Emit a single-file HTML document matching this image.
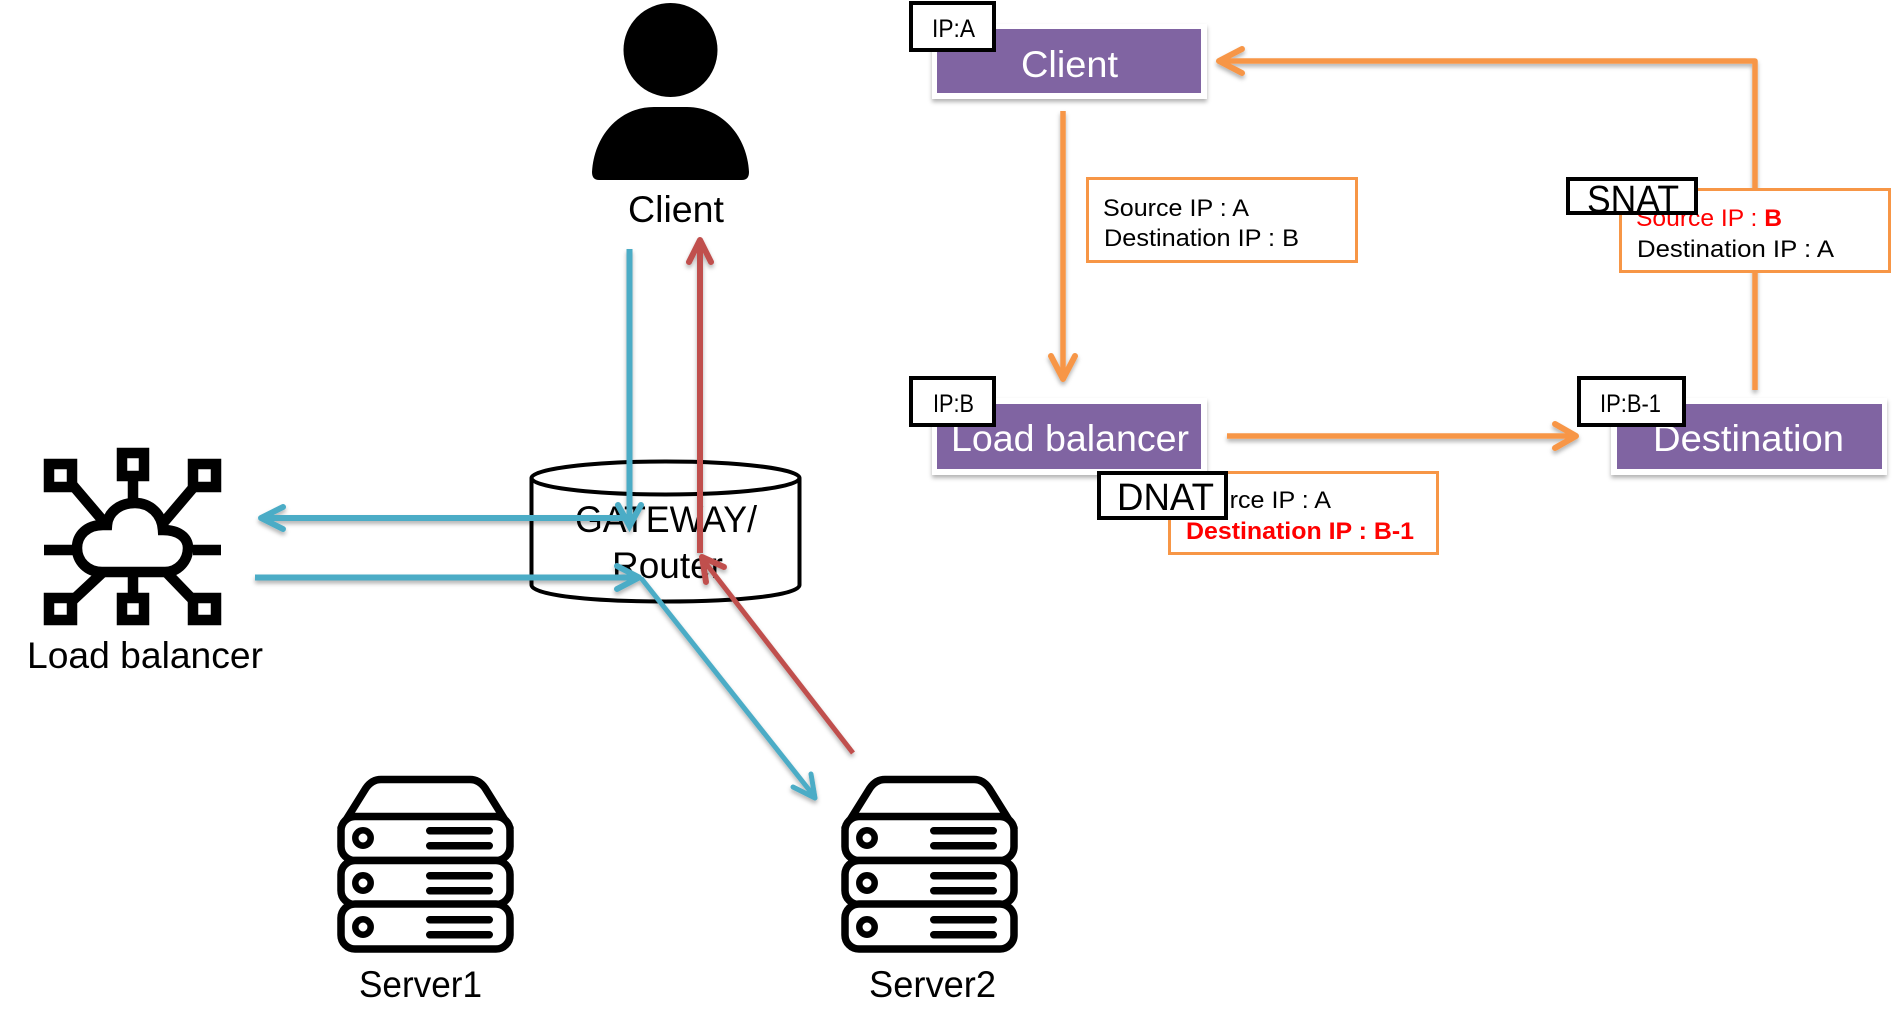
<!DOCTYPE html>
<html lang="en">
<head>
<meta charset="utf-8">
<title>Load balancer DNAT / SNAT diagram</title>
<style>
html,body{margin:0;padding:0;background:#fff;width:1895px;height:1014px;overflow:hidden}
svg{display:block}
text{font-family:"Liberation Sans",sans-serif}
</style>
</head>
<body>
<svg xmlns="http://www.w3.org/2000/svg" width="1895" height="1014" viewBox="0 0 1895 1014">
<defs>
<filter id="sh" x="-20%" y="-20%" width="140%" height="140%">
<feDropShadow dx="0" dy="3" stdDeviation="2" flood-color="#000" flood-opacity="0.3"/>
</filter>
<filter id="ash" x="0" y="0" width="1895" height="1014" filterUnits="userSpaceOnUse">
<feDropShadow dx="0" dy="3" stdDeviation="2" flood-color="#000" flood-opacity="0.3"/>
</filter>
<g id="server">
<path d="M341 828 L366 788 Q372 779.5 381 779.5 H470 Q479 779.5 485 788 L510 828 Z" fill="#fff" stroke="#000" stroke-width="7.5" stroke-linejoin="round"/>
<rect x="341" y="816.5" width="169" height="44" rx="14" fill="#fff" stroke="#000" stroke-width="7.5"/>
<rect x="341" y="860.5" width="169" height="44" rx="14" fill="#fff" stroke="#000" stroke-width="7.5"/>
<rect x="341" y="904" width="169" height="45" rx="14" fill="#fff" stroke="#000" stroke-width="7.5"/>
<circle cx="363" cy="838" r="7.7" fill="#fff" stroke="#000" stroke-width="6.5"/>
<circle cx="363" cy="883" r="7.7" fill="#fff" stroke="#000" stroke-width="6.5"/>
<circle cx="363" cy="927" r="7.7" fill="#fff" stroke="#000" stroke-width="6.5"/>
<rect x="426" y="827" width="67" height="7.5" rx="3.75"/>
<rect x="426" y="842" width="67" height="7.5" rx="3.75"/>
<rect x="426" y="872" width="67" height="7.5" rx="3.75"/>
<rect x="426" y="887" width="67" height="7.5" rx="3.75"/>
<rect x="426" y="916" width="67" height="7.5" rx="3.75"/>
<rect x="426" y="931" width="67" height="7.5" rx="3.75"/>
</g>
</defs>

<!-- Person -->
<circle cx="670.5" cy="50" r="47" fill="#000"/>
<path d="M592 172 C594 135 620 107 654 107 H687 C721 107 747 135 749 172 Q749 180 742 180 H599 Q592 180 592 172Z" fill="#000"/>
<text x="628" y="222" font-size="37" textLength="96" lengthAdjust="spacingAndGlyphs">Client</text>

<!-- Load balancer icon -->
<g fill="none" stroke="#000" stroke-width="10.5">
<path d="M70 482 L104 522 M198 482 L164 522 M133 481 V500 M44 550 H74 M193 550 H221 M133 577 V593 M72 601 L102 573 M194 601 L167 573"/>
<path d="M102 572 C87 572 77 561 77 548 C77 535 87 525 103 525 L107 525 C108 512 120 503 135 503 C150 503 162 514 163 530 C178 530 188 537 188 548 C188 561 178 572 165 572 Z" fill="#fff"/>
<rect x="49" y="464" width="23" height="23"/>
<rect x="122" y="453" width="22" height="23"/>
<rect x="193" y="464" width="23" height="23"/>
<rect x="49" y="598" width="23" height="22"/>
<rect x="122" y="598" width="22" height="22"/>
<rect x="193" y="598" width="23" height="22"/>
</g>
<text x="27" y="668" font-size="37" textLength="236" lengthAdjust="spacingAndGlyphs">Load balancer</text>

<!-- Gateway cylinder -->
<path d="M531.5 478 V585 C531.5 595 590 601.5 665.5 601.5 C741 601.5 799.5 595 799.5 585 V478" fill="#fff" stroke="#000" stroke-width="4"/>
<ellipse cx="665.5" cy="478" rx="134" ry="16.5" fill="#fff" stroke="#000" stroke-width="4"/>
<text x="575" y="532" font-size="37" textLength="182" lengthAdjust="spacingAndGlyphs">GATEWAY/</text>
<text x="612" y="578" font-size="37" textLength="111" lengthAdjust="spacingAndGlyphs">Router</text>

<!-- Servers -->
<use href="#server"/>
<use href="#server" x="504"/>
<text x="359" y="997" font-size="37" textLength="123" lengthAdjust="spacingAndGlyphs">Server1</text>
<text x="869" y="997" font-size="37" textLength="127" lengthAdjust="spacingAndGlyphs">Server2</text>

<!-- Blue / red arrows -->
<g fill="none" filter="url(#ash)">
<g stroke="#4bacc6">
<path d="M629.5 249 V526" stroke-width="6"/>
<path d="M618 505 L629.5 526 L641 505" stroke-width="6" stroke-linecap="round"/>
<path d="M262 518 H632" stroke-width="6"/>
<path d="M283 507 L261 518 L283 529" stroke-width="6" stroke-linecap="round" stroke-linejoin="round"/>
<path d="M255 577.5 H638" stroke-width="6"/>
<path d="M617 566 L639 577.5 L617 589" stroke-width="6" stroke-linecap="round" stroke-linejoin="round"/>
<path d="M641 578 L814 796" stroke-width="5"/>
<path d="M793 787 L815 798 L811 774" stroke-width="5" stroke-linecap="round" stroke-linejoin="round"/>
</g>
<g stroke="#c0504d">
<path d="M700 242 V553" stroke-width="6"/>
<path d="M689 262 L700 240 L711 262" stroke-width="6" stroke-linecap="round" stroke-linejoin="round"/>
<path d="M853 753 L704 561" stroke-width="5"/>
<path d="M706 582 L702 557 L724 567" stroke-width="6" stroke-linecap="round" stroke-linejoin="round"/>
</g>
</g>

<!-- Right side: nodes -->
<g>
<rect x="932" y="24" width="275" height="75" fill="#fff" filter="url(#sh)"/>
<rect x="937" y="29" width="264" height="64" fill="#8064a2"/>
<rect x="932" y="398" width="275" height="77" fill="#fff" filter="url(#sh)"/>
<rect x="937" y="404" width="264" height="65" fill="#8064a2"/>
<rect x="1611" y="398" width="276" height="77" fill="#fff" filter="url(#sh)"/>
<rect x="1617" y="404" width="265" height="65" fill="#8064a2"/>
</g>
<g fill="#fff" font-size="37">
<text x="1021" y="77" textLength="97" lengthAdjust="spacingAndGlyphs">Client</text>
<text x="951" y="451" textLength="238" lengthAdjust="spacingAndGlyphs">Load balancer</text>
<text x="1653" y="451" textLength="191" lengthAdjust="spacingAndGlyphs">Destination</text>
</g>

<!-- Orange arrows -->
<g fill="none" stroke="#f79646" filter="url(#ash)">
<path d="M1755 390 V61 H1222" stroke-width="5.5" stroke-linejoin="round"/>
<path d="M1242 49 L1219 61 L1242 73" stroke-width="6" stroke-linecap="round" stroke-linejoin="round"/>
<path d="M1063 111 V376" stroke-width="5.5"/>
<path d="M1051 356 L1063 379 L1075 356" stroke-width="6" stroke-linecap="round" stroke-linejoin="round"/>
<path d="M1227 436 H1574" stroke-width="5.5"/>
<path d="M1555 424 L1576 436 L1555 448" stroke-width="6" stroke-linecap="round" stroke-linejoin="round"/>
</g>

<!-- Orange info boxes -->
<g fill="#fff" stroke="#f79646" stroke-width="3">
<rect x="1087.5" y="178.5" width="269" height="83"/>
<rect x="1620.5" y="189.5" width="269" height="82"/>
<rect x="1169.5" y="472.5" width="268" height="81"/>
</g>
<g font-size="24.5" fill="#000">
<text x="1103" y="216" textLength="146" lengthAdjust="spacingAndGlyphs">Source IP : A</text>
<text x="1104" y="246" textLength="195" lengthAdjust="spacingAndGlyphs">Destination IP : B</text>
<text x="1636" y="226" fill="#f00" textLength="146" lengthAdjust="spacingAndGlyphs">Source IP : <tspan font-weight="bold">B</tspan></text>
<text x="1637" y="257" textLength="197" lengthAdjust="spacingAndGlyphs">Destination IP : A</text>
<text x="1185" y="508" textLength="146" lengthAdjust="spacingAndGlyphs">Source IP : A</text>
<text x="1186" y="539" fill="#f00" font-weight="bold" textLength="228" lengthAdjust="spacingAndGlyphs">Destination IP : B-1</text>
</g>

<!-- Black label boxes -->
<g fill="#fff" stroke="#000" stroke-width="4">
<rect x="911" y="3" width="83" height="47"/>
<rect x="911" y="378" width="83" height="47"/>
<rect x="1579" y="378" width="105" height="47"/>
<rect x="1568" y="179" width="128" height="34"/>
<rect x="1099" y="473" width="127" height="45"/>
</g>
<g font-size="25" fill="#000">
<text x="932" y="37" textLength="43" lengthAdjust="spacingAndGlyphs">IP:A</text>
<text x="933" y="412" textLength="41" lengthAdjust="spacingAndGlyphs">IP:B</text>
<text x="1600" y="412" textLength="61" lengthAdjust="spacingAndGlyphs">IP:B-1</text>
</g>
<g font-size="38" fill="#000">
<text x="1587" y="212" textLength="92" lengthAdjust="spacingAndGlyphs">SNAT</text>
<text x="1117" y="510" textLength="97" lengthAdjust="spacingAndGlyphs">DNAT</text>
</g>
</svg>
</body>
</html>
